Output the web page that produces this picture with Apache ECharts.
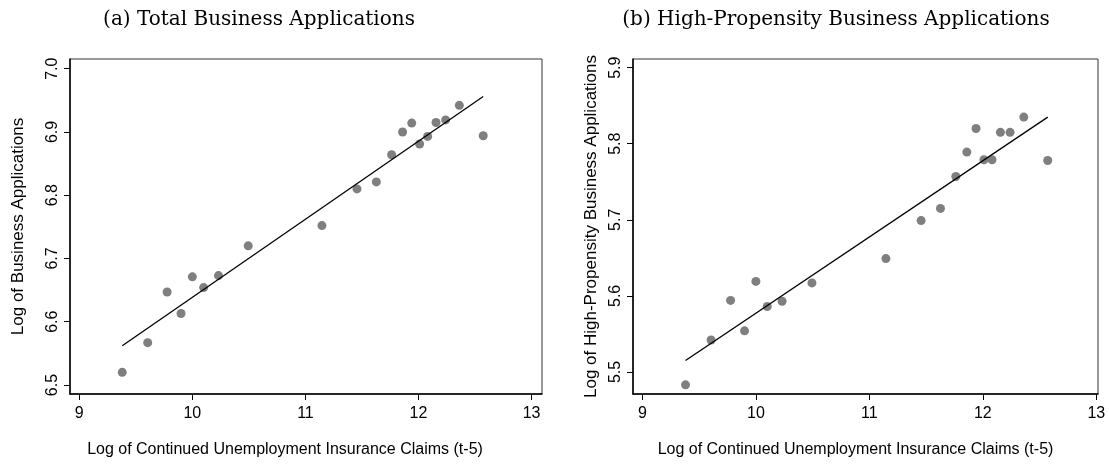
<!DOCTYPE html>
<html>
<head>
<meta charset="utf-8">
<script src="https://cdn.jsdelivr.net/npm/echarts@6/dist/echarts.min.js"></script>
<style>
  html, body { margin: 0; padding: 0; background: #fff; }
  #chart { width: 1109px; height: 464px; }
</style>
</head>
<body>
<div id="chart"></div>
<script>
// log of continued UI claims (t-5), shared by both panels
var claims = [9.38, 9.605, 9.777, 9.9, 10.0, 10.1, 10.231, 10.494, 11.146, 11.456,
              11.627, 11.762, 11.859, 11.94, 12.01, 12.081, 12.155, 12.24, 12.361, 12.572];
// log of business applications
var totalApps = [6.520, 6.567, 6.647, 6.613, 6.671, 6.654, 6.673, 6.720, 6.752, 6.810,
                 6.821, 6.864, 6.900, 6.914, 6.881, 6.893, 6.915, 6.919, 6.942, 6.894];
// log of high-propensity business applications
var hpApps = [5.483, 5.542, 5.594, 5.554, 5.619, 5.586, 5.593, 5.617, 5.649, 5.699,
              5.715, 5.757, 5.789, 5.820, 5.779, 5.779, 5.815, 5.815, 5.835, 5.778];
// fitted line end points
var fitX = [9.38, 12.572];
var totalFit = [6.562, 6.956];
var hpFit = [5.515, 5.835];

var xTicks = [9, 10, 11, 12, 13];
var totalTicks = [6.5, 6.6, 6.7, 6.8, 6.9, 7.0];
var hpTicks = [5.5, 5.6, 5.7, 5.8, 5.9];

var xTitle = 'Log of Continued Unemployment Insurance Claims (t-5)';

function pairs (xs, ys) {
  return xs.map(function (x, i) { return [x, ys[i]]; });
}

var font = 'Liberation Sans, Arial, sans-serif';

// shift = how far the axis title sits left of the plot centre
function xAxisOpt (idx, min, max, shift) {
  return {
    type: 'value', gridIndex: idx, min: min, max: max,
    name: xTitle, nameLocation: 'middle', nameGap: 48,
    nameTextStyle: { fontFamily: font, fontSize: 16, color: '#000', padding: [0, shift * 2, 0, 0] },
    splitLine: { show: false },
    axisLine: { onZero: false, lineStyle: { color: '#000', width: 1.5 } },
    axisTick: { show: true, customValues: xTicks, length: 6, lineStyle: { color: '#000' } },
    axisLabel: { customValues: xTicks, margin: 12, fontFamily: font, fontSize: 16, color: '#000' }
  };
}

function yAxisOpt (idx, min, max, ticks, name, gap) {
  return {
    type: 'value', gridIndex: idx, min: min, max: max,
    name: name, nameLocation: 'middle', nameGap: gap,
    nameTextStyle: { fontFamily: font, fontSize: 17, color: '#000' },
    splitLine: { show: false },
    axisLine: { onZero: false, lineStyle: { color: '#000', width: 1.5 } },
    axisTick: { show: true, customValues: ticks, length: 6, lineStyle: { color: '#000' } },
    axisLabel: {
      customValues: ticks, rotate: 90, margin: 9,
      fontFamily: font, fontSize: 16, color: '#000',
      formatter: function (v) { return v.toFixed(1); }
    }
  };
}

var titleStyle = { fontFamily: 'DejaVu Serif, serif', fontSize: 20, fontWeight: 'normal', color: '#000' };

var myChart = echarts.init(document.getElementById('chart'));
var option = {
  backgroundColor: '#fff',
  animation: false,
  title: [
    { text: '(a) Total Business Applications', left: 254, top: 5, textAlign: 'center', textStyle: titleStyle },
    { text: '(b) High-Propensity Business Applications', left: 831, top: 5, textAlign: 'center', textStyle: titleStyle }
  ],
  grid: [
    { left: 70, top: 59, width: 472, height: 335, show: true, borderColor: '#333', borderWidth: 1 },
    { left: 633, top: 59, width: 465, height: 335, show: true, borderColor: '#333', borderWidth: 1 }
  ],
  xAxis: [
    xAxisOpt(0, 8.918, 13.092, 21),
    xAxisOpt(1, 8.917, 13.015, 10)
  ],
  yAxis: [
    yAxisOpt(0, 6.4858, 7.0153, totalTicks, 'Log of Business Applications', 43),
    yAxisOpt(1, 5.471, 5.9114, hpTicks, 'Log of High-Propensity Business Applications', 33)
  ],
  series: [
    {
      type: 'scatter', xAxisIndex: 0, yAxisIndex: 0,
      data: pairs(claims, totalApps), symbolSize: 9,
      itemStyle: { color: '#7f7f7f', opacity: 1 }
    },
    {
      type: 'line', xAxisIndex: 0, yAxisIndex: 0,
      data: pairs(fitX, totalFit), symbol: 'none',
      lineStyle: { color: '#000', width: 1.3 }
    },
    {
      type: 'scatter', xAxisIndex: 1, yAxisIndex: 1,
      data: pairs(claims, hpApps), symbolSize: 9,
      itemStyle: { color: '#7f7f7f', opacity: 1 }
    },
    {
      type: 'line', xAxisIndex: 1, yAxisIndex: 1,
      data: pairs(fitX, hpFit), symbol: 'none',
      lineStyle: { color: '#000', width: 1.3 }
    }
  ]
};
option && myChart.setOption(option);
</script>
</body>
</html>
